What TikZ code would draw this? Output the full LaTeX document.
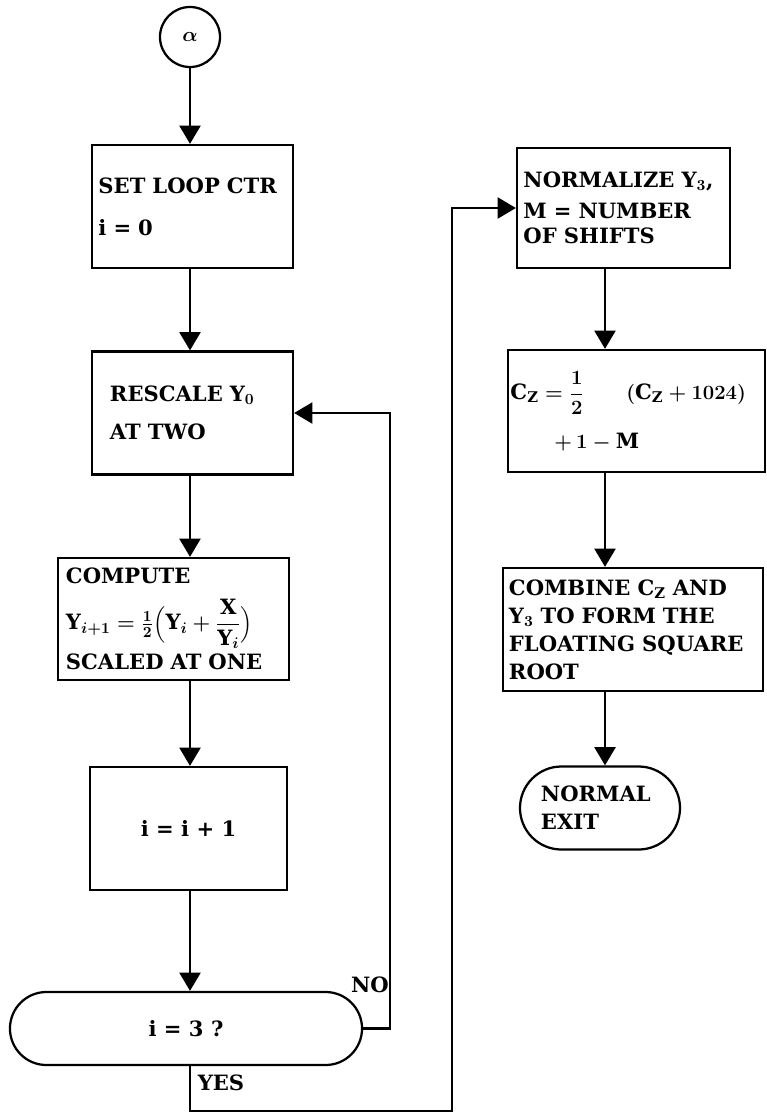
\documentclass[tikz,border=0pt]{standalone}
\usepackage{amsmath}
\usepackage{fontspec}
\setmainfont{DejaVu Serif}
\usetikzlibrary{arrows.meta}
\usetikzlibrary{shapes.misc}

\begin{document}
\begin{tikzpicture}[x=0.025cm,y=-0.025cm,
  every node/.style={font=\fontsize{15}{18}\selectfont\bfseries\boldmath},
  box/.style={draw,line width=1.6pt,rectangle,inner sep=0pt,align=left},
  term/.style={draw,line width=1.6pt,rounded rectangle,inner sep=0pt,align=left},
  flow/.style={line width=1.6pt,-{Triangle[length=13pt,width=15pt]}}]
\useasboundingbox (0,0) rectangle (767,1113);
\coordinate (colL) at (190,0);
\coordinate (colR) at (605,0);
\coordinate (noX) at (390,0);
\coordinate (yesX) at (452,1111);

\node[draw,circle,line width=1.6pt,minimum size=1.5cm,inner sep=0pt] (alpha) at (190,37) {$\alpha$};
\node[box,minimum width=5.025cm,minimum height=3.075cm,text width=4.7cm] (ctr) at (192.5,206.5) {SET LOOP CTR\\[12pt] i = 0};
\node[box,minimum width=5.025cm,minimum height=3.075cm,text width=4.125cm] (rescale) at (192.5,413) {RESCALE Y$_0$\\[9pt] AT TWO};
\node[box,minimum width=5.775cm,minimum height=3.05cm,text width=5.375cm] (compute) at (173.5,619) {COMPUTE\\[10pt]
  $\mathrm{Y}_{i+1} = \tfrac{1}{2}\Bigl(\mathrm{Y}_i + \dfrac{\mathrm{X}}{\mathrm{Y}_i}\Bigr)$\\[3pt] SCALED AT ONE};
\node[box,minimum width=4.925cm,minimum height=3.075cm,align=center] (incr) at (188.5,828.5) {i = i + 1};
\node[term,minimum width=8.8cm,minimum height=1.825cm,align=center] (test) at (186,1028.5) {i = 3 ?};

\node[box,minimum width=5.325cm,minimum height=3cm,text width=5.0cm] (norm) at (623.5,208) {NORMALIZE Y$_3$,\\[4pt] M = NUMBER\\ OF SHIFTS};
\node[box,minimum width=6.425cm,minimum height=3.05cm,text width=6.3cm] (czbox) at (636.5,411) {$\mathrm{C_Z} = \dfrac{1}{2}\qquad(\mathrm{C_Z} + 1024)$\\[12pt]
  \hspace*{1.1cm}$+\,1 - \mathrm{M}$};
\node[box,minimum width=6.5cm,minimum height=3.075cm,text width=6.2cm] (comb) at (633,629.5) {COMBINE C$_{\mathrm{Z}}$ AND\\[2pt] Y$_3$ TO FORM THE\\[2pt] FLOATING SQUARE\\[2pt] ROOT};
\node[term,minimum width=4cm,minimum height=2.075cm,text width=2.95cm] (exit) at (600,808) {NORMAL\\[2pt] EXIT};

\draw[flow] (alpha.south) -- (alpha.south |- ctr.north);
\draw[flow] (ctr.south -| colL) -- (rescale.north -| colL);
\draw[flow] (rescale.south -| colL) -- (compute.north -| colL);
\draw[flow] (compute.south -| colL) -- (incr.north -| colL);
\draw[flow] (incr.south -| colL) -- (test.north -| colL);
\draw[flow] (test.east) -| (noX |- rescale.east) -- (rescale.east);
\draw[flow] (test.south -| colL) |- (yesX) |- (norm.west);
\draw[flow] (norm.south -| colR) -- (czbox.north -| colR);
\draw[flow] (czbox.south -| colR) -- (comb.north -| colR);
\draw[flow] (comb.south -| colR) -- (exit.north -| colR);

\node (no) at (370,985) {NO};
\node (yes) at (221,1083) {YES};
\end{tikzpicture}
\end{document}
